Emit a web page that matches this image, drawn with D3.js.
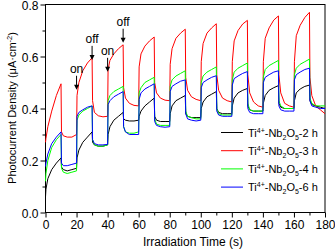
<!DOCTYPE html>
<html>
<head>
<meta charset="utf-8">
<script src="https://cdn.jsdelivr.net/npm/d3@7"></script>
<style>
  body { margin: 0; background: #fff; }
  text { font-family: "Liberation Sans", Arial, sans-serif; fill: #000; }
  .tick text { font-size: 12px; }
  .axis path, .axis line { stroke: #000; }
</style>
</head>
<body>
<div id="chart"></div>
<script>
// irradiation time (s): light on at 0,20,40..., off at 10,30,50...
const times = [
  0, 0.3, 1.5, 4, 7,   10, 10.3, 11.5, 14, 17,
  20, 20.3, 21.5, 24, 27,   30, 30.3, 31.5, 34, 37,
  40, 40.3, 41.5, 44, 47,   50, 50.3, 51.5, 54, 57,
  60, 60.3, 61.5, 64, 67,   70, 70.3, 71.5, 74, 77,
  80, 80.3, 81.5, 84, 87,   90, 90.3, 91.5, 94, 97,
  100, 100.3, 101.5, 104, 107,   110, 110.3, 111.5, 114, 117,
  120, 120.3, 121.5, 124, 127,   130, 130.3, 131.5, 134, 137,
  140, 140.3, 141.5, 144, 147,   150, 150.3, 151.5, 154, 157,
  160, 160.3, 161.5, 164, 167,   170, 170.3, 171.5, 174, 177,
  180
];

const series2h = [
  0.06, 0.09, 0.13, 0.165, 0.19,   0.21, 0.175, 0.165, 0.16, 0.165,
  0.17, 0.21, 0.24, 0.27, 0.29,   0.31, 0.27, 0.26, 0.255, 0.255,
  0.26, 0.30, 0.33, 0.355, 0.37,   0.385, 0.36, 0.355, 0.352, 0.352,
  0.355, 0.37, 0.39, 0.41, 0.425,   0.44, 0.37, 0.355, 0.35, 0.35,
  0.35, 0.38, 0.41, 0.43, 0.44,   0.45, 0.38, 0.37, 0.365, 0.365,
  0.365, 0.40, 0.425, 0.445, 0.455,   0.465, 0.40, 0.385, 0.38, 0.38,
  0.38, 0.41, 0.44, 0.46, 0.47,   0.477, 0.41, 0.395, 0.39, 0.39,
  0.39, 0.42, 0.45, 0.47, 0.48,   0.488, 0.42, 0.405, 0.40, 0.40,
  0.40, 0.43, 0.46, 0.475, 0.485,   0.49, 0.43, 0.415, 0.41, 0.405,
  0.40
];

const series3h = [
  0.27, 0.285, 0.33, 0.39, 0.45,   0.495, 0.31, 0.295, 0.29, 0.29,
  0.30, 0.45, 0.50, 0.545, 0.575,   0.595, 0.43, 0.385, 0.372, 0.368,
  0.37, 0.55, 0.585, 0.61, 0.63,   0.645, 0.48, 0.44, 0.42, 0.412,
  0.41, 0.56, 0.61, 0.64, 0.66,   0.675, 0.50, 0.46, 0.44, 0.432,
  0.43, 0.57, 0.63, 0.67, 0.69,   0.705, 0.52, 0.47, 0.445, 0.435,
  0.43, 0.58, 0.65, 0.69, 0.71,   0.726, 0.53, 0.47, 0.44, 0.43,
  0.425, 0.58, 0.66, 0.70, 0.725,   0.739, 0.53, 0.46, 0.425, 0.41,
  0.405, 0.58, 0.67, 0.71, 0.74,   0.756, 0.53, 0.46, 0.42, 0.41,
  0.405, 0.58, 0.68, 0.72, 0.75,   0.77, 0.52, 0.45, 0.41, 0.395,
  0.38
];

const series4h = [
  0.12, 0.15, 0.20, 0.25, 0.28,   0.30, 0.17, 0.155, 0.15, 0.155,
  0.16, 0.355, 0.375, 0.39, 0.40,   0.41, 0.28, 0.26, 0.255, 0.255,
  0.26, 0.43, 0.45, 0.465, 0.475,   0.485, 0.33, 0.31, 0.305, 0.305,
  0.31, 0.46, 0.48, 0.50, 0.51,   0.52, 0.36, 0.34, 0.335, 0.335,
  0.335, 0.485, 0.51, 0.525, 0.535,   0.545, 0.39, 0.37, 0.365, 0.36,
  0.36, 0.50, 0.525, 0.54, 0.55,   0.56, 0.40, 0.38, 0.375, 0.375,
  0.375, 0.51, 0.54, 0.555, 0.565,   0.575, 0.42, 0.395, 0.39, 0.39,
  0.39, 0.52, 0.55, 0.565, 0.575,   0.585, 0.43, 0.41, 0.40, 0.40,
  0.40, 0.53, 0.555, 0.57, 0.58,   0.59, 0.44, 0.42, 0.41, 0.41,
  0.41
];

const series6h = [
  0.177, 0.19, 0.225, 0.265, 0.29,   0.31, 0.19, 0.18, 0.18, 0.185,
  0.19, 0.37, 0.385, 0.395, 0.405,   0.41, 0.28, 0.265, 0.26, 0.26,
  0.262, 0.415, 0.43, 0.445, 0.455,   0.465, 0.33, 0.31, 0.30, 0.30,
  0.30, 0.435, 0.46, 0.475, 0.485,   0.495, 0.35, 0.335, 0.33, 0.328,
  0.33, 0.465, 0.485, 0.495, 0.505,   0.51, 0.38, 0.36, 0.355, 0.352,
  0.355, 0.48, 0.50, 0.51, 0.52,   0.526, 0.39, 0.375, 0.37, 0.37,
  0.37, 0.49, 0.515, 0.525, 0.535,   0.542, 0.40, 0.385, 0.38, 0.38,
  0.38, 0.50, 0.52, 0.53, 0.54,   0.545, 0.41, 0.395, 0.39, 0.39,
  0.39, 0.51, 0.53, 0.54, 0.55,   0.555, 0.43, 0.41, 0.405, 0.40,
  0.40
];

const seriesNames = ["2 h", "3 h", "4 h", "6 h"];
const seriesColors = ["#000000", "#ff0000", "#00ff00", "#0000ff"];
const allSeries = [series2h, series3h, series4h, series6h];

const xTicks = [0, 20, 40, 60, 80, 100, 120, 140, 160, 180];
const xMinor = [10, 30, 50, 70, 90, 110, 130, 150, 170];
const yTicks = [0.0, 0.2, 0.4, 0.6, 0.8];
const yMinor = [0.1, 0.3, 0.5, 0.7];

// on/off markers: label, time, value where the arrow points
const notes = [
  {label: "on", t: 20, v: 0.472},
  {label: "off", t: 30, v: 0.587},
  {label: "on", t: 40, v: 0.541},
  {label: "off", t: 50, v: 0.653}
];

const W = 335, H = 250;
const margin = {top: 4.5, right: 10, bottom: 37.5, left: 45.5};

const svg = d3.select("#chart").append("svg")
  .attr("width", W).attr("height", H);

const x = d3.scaleLinear().domain([0, 180]).range([margin.left, W - margin.right]);
const y = d3.scaleLinear().domain([0, 0.8]).range([H - margin.bottom, margin.top]);

// frame
svg.append("rect")
  .attr("x", margin.left).attr("y", margin.top)
  .attr("width", x(180) - x(0)).attr("height", y(0) - y(0.8))
  .attr("fill", "none").attr("stroke", "#000");

// axes
svg.append("g").attr("class", "axis")
  .attr("transform", `translate(0,${y(0)})`)
  .call(d3.axisBottom(x).tickValues(xTicks).tickSize(5).tickSizeOuter(0).tickPadding(3))
  .call(g => g.select(".domain").remove());
svg.append("g").attr("class", "axis")
  .attr("transform", `translate(0,${y(0)})`)
  .call(d3.axisBottom(x).tickValues(xMinor).tickSize(3).tickFormat(""))
  .call(g => g.select(".domain").remove());

svg.append("g").attr("class", "axis")
  .attr("transform", `translate(${x(0)},0)`)
  .call(d3.axisLeft(y).tickValues(yTicks).tickSize(5).tickPadding(2).tickFormat(d3.format(".1f")))
  .call(g => g.select(".domain").remove())
  .call(g => g.selectAll(".tick text").attr("dy", "0.42em"));
svg.append("g").attr("class", "axis")
  .attr("transform", `translate(${x(0)},0)`)
  .call(d3.axisLeft(y).tickValues(yMinor).tickSize(3).tickFormat(""))
  .call(g => g.select(".domain").remove());

// lines
const line = d3.line()
  .x((d, i) => x(times[i]))
  .y(d => y(d));

svg.append("g").selectAll("path")
  .data(allSeries)
  .join("path")
    .attr("d", d => line(d))
    .attr("fill", "none")
    .attr("stroke", (d, i) => seriesColors[i])
    .attr("stroke-width", 1)
    .attr("stroke-linejoin", "miter");

// on / off annotations
const ann = svg.append("g");
notes.forEach(n => {
  const px = x(n.t), py = y(n.v);
  ann.append("text")
    .attr("x", px).attr("y", py - 17)
    .attr("text-anchor", "middle")
    .style("font-size", "12px")
    .text(n.label);
  ann.append("line")
    .attr("x1", px).attr("x2", px)
    .attr("y1", py - 14).attr("y2", py - 4)
    .attr("stroke", "#000").attr("stroke-width", 1);
  ann.append("path")
    .attr("d", `M${px - 2.5},${py - 5}L${px + 2.5},${py - 5}L${px},${py}Z`)
    .attr("fill", "#000");
});

// axis titles
svg.append("text")
  .attr("x", 193).attr("y", 246)
  .attr("text-anchor", "middle")
  .style("font-size", "12px")
  .text("Irradiation Time (s)");

const yTitle = svg.append("text")
  .attr("transform", "translate(16,108) rotate(-90)")
  .attr("text-anchor", "middle")
  .style("font-size", "11px");
yTitle.append("tspan").text("Photocurrent Density (μA·cm");
yTitle.append("tspan").attr("dy", -4).style("font-size", "7.5px").text("-2");
yTitle.append("tspan").attr("dy", 4).text(")");

// legend
const legend = svg.append("g");
seriesNames.forEach((name, i) => {
  const ly = 132.5 + i * 18.2;
  legend.append("line")
    .attr("x1", 221).attr("x2", 243)
    .attr("y1", ly).attr("y2", ly)
    .attr("stroke", seriesColors[i]).attr("stroke-width", 1);
  const t = legend.append("text")
    .attr("x", 248).attr("y", ly + 4)
    .style("font-size", "11px");
  t.append("tspan").text("Ti");
  t.append("tspan").attr("dy", -4).style("font-size", "7px").text("4+");
  t.append("tspan").attr("dy", 4).text("-Nb");
  t.append("tspan").attr("dy", 3).style("font-size", "7px").text("2");
  t.append("tspan").attr("dy", -3).text("O");
  t.append("tspan").attr("dy", 3).style("font-size", "7px").text("5");
  t.append("tspan").attr("dy", -3).text("-" + name);
});
</script>
</body>
</html>
